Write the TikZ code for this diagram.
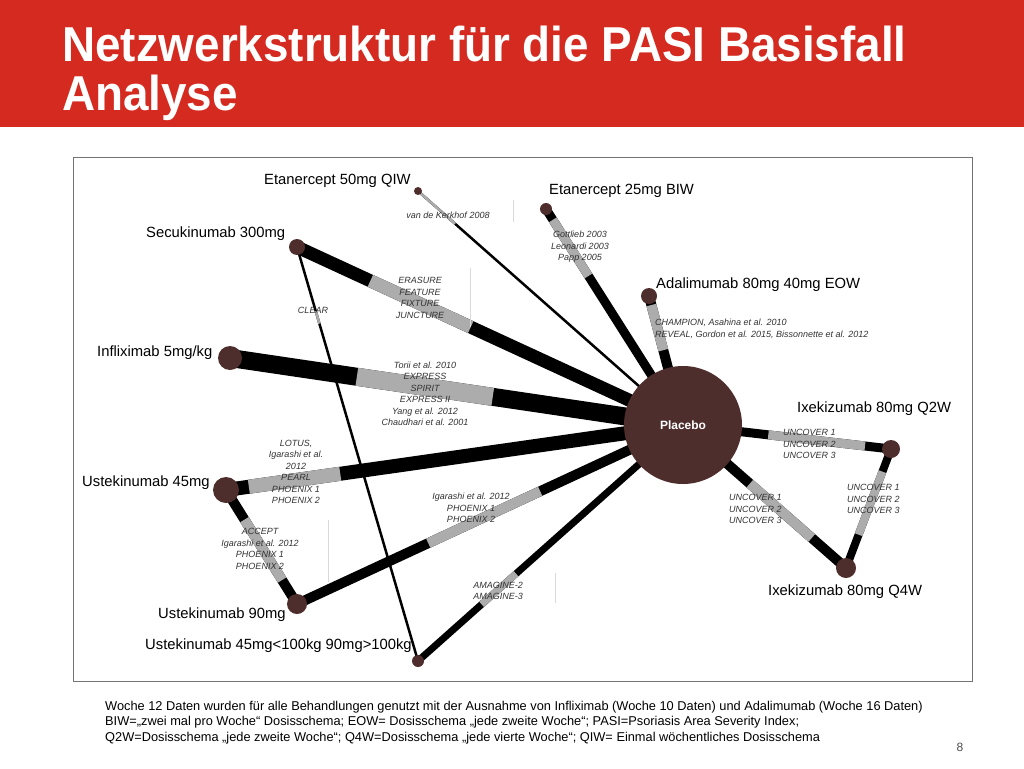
\documentclass[tikz,border=0pt]{standalone}
\usepackage{fontspec}
\setmainfont{Liberation Sans}
\newfontfamily\titlefont[FakeStretch=0.935]{Liberation Sans}
\usetikzlibrary{calc}
\pgfdeclarelayer{bg}
\pgfsetlayers{bg,main}
\definecolor{banner}{RGB}{212,42,32}
\definecolor{dotc}{RGB}{78,46,44}
\definecolor{segc}{RGB}{172,172,172}
\definecolor{labc}{RGB}{50,50,50}
\tikzset{
  dot/.style={circle,fill=dotc,inner sep=0pt,minimum size=#1},
  drug/.style={anchor=west,inner sep=0pt,font=\fontsize{14.8}{16}\selectfont,text=black},
  trial/.style={inner sep=0pt,font=\fontsize{9}{11.5}\selectfont\itshape,text=labc,align=center},
  trialL/.style={trial,align=left,anchor=west},
  artifact/.style={draw=black!15,line width=0.8pt},
  titletext/.style={anchor=base west,inner sep=0pt,text=white,font=\titlefont\bfseries\fontsize{49}{46}\selectfont},
}
% #1 from, #2 to, #3 width, #4 gray start, #5 gray end
\newcommand{\netedge}[5]{%
  \draw[line width=#3,line cap=butt] (#1.center) -- (#2.center);
  \draw[segc,line width=#3,line cap=butt] ($(#1.center)!#4!(#2.center)$) -- ($(#1.center)!#5!(#2.center)$);
}
\begin{document}
\begin{tikzpicture}[x=1pt,y=-1pt]
\useasboundingbox (0,0) rectangle (1024,768);
% banner
\fill[banner] (0,0) rectangle (1024,127);
\node[titletext] (title1) at (62,62) {Netzwerkstruktur für die PASI Basisfall};
\node[titletext] (title2) at (62,110) {Analyse};
% frame
\draw[black!55,line width=1pt] (73,157) rectangle (972,681);
% artifacts
\draw[artifact] (513,200) -- (513,222);
\draw[artifact] (470,268) -- (470,327);
\draw[artifact] (328,520) -- (328,582);
\draw[artifact] (555,573) -- (555,603);
% nodes
\node[circle,fill=dotc,inner sep=0pt,minimum size=118pt,text=white,font=\bfseries\fontsize{12}{14}\selectfont] (P) at (683,425) {Placebo};
\node[dot=8pt] (E50) at (418,191) {};
\node[dot=12pt] (E25) at (546,209) {};
\node[dot=16pt] (S) at (297,247) {};
\node[dot=16pt] (A) at (649,296) {};
\node[dot=24pt] (I) at (230,358) {};
\node[dot=18pt] (X2) at (891,449) {};
\node[dot=26pt] (U45) at (226,490) {};
\node[dot=20pt] (U90) at (297,604) {};
\node[dot=20pt] (X4) at (846,568) {};
\node[dot=12pt] (UW) at (418,661) {};
% edges
\begin{pgfonlayer}{bg}
\netedge{P}{E50}{2.5pt}{0.86}{0.99}
\netedge{P}{E25}{9pt}{0.69}{0.95}
\netedge{P}{S}{13pt}{0.55}{0.81}
\netedge{P}{A}{10pt}{0.58}{0.93}
\netedge{P}{I}{18pt}{0.42}{0.72}
\netedge{P}{U45}{14pt}{0.75}{0.95}
\netedge{P}{U90}{10pt}{0.37}{0.66}
\netedge{P}{UW}{7pt}{0.63}{0.76}
\netedge{P}{X2}{9pt}{0.41}{0.875}
\netedge{P}{X4}{10pt}{0.41}{0.79}
\netedge{U45}{U90}{10pt}{0.26}{0.79}
\netedge{X2}{X4}{8pt}{0.19}{0.72}
\netedge{S}{UW}{2.5pt}{0.155}{0.185}
\end{pgfonlayer}
% drug labels
\node[drug] (lE50) at (264,181) {Etanercept 50mg QIW};
\node[drug] (lE25) at (549,191) {Etanercept 25mg BIW};
\node[drug] (lS) at (146,234) {Secukinumab 300mg};
\node[drug] (lA) at (656,285) {Adalimumab 80mg 40mg EOW};
\node[drug] (lI) at (97,353) {Infliximab 5mg/kg};
\node[drug] (lX2) at (797,409) {Ixekizumab 80mg Q2W};
\node[drug] (lU45) at (82,483) {Ustekinumab 45mg};
\node[drug] (lU90) at (158,615) {Ustekinumab 90mg};
\node[drug] (lX4) at (768,592) {Ixekizumab 80mg Q4W};
\node[drug] (lUW) at (145,646) {Ustekinumab 45mg<100kg 90mg>100kg};
% trial labels
\node[trial] (tE50) at (448,215) {van de Kerkhof 2008};
\node[trial] (tE25) at (580,247) {Gottlieb 2003\\Leonardi 2003\\Papp 2005};
\node[trial] (tS) at (420,298) {ERASURE\\FEATURE\\FIXTURE\\JUNCTURE};
\node[trial] (tSW) at (313,310) {CLEAR};
\node[trialL] (tA) at (655,329) {CHAMPION, Asahina et al. 2010\\REVEAL, Gordon et al. 2015, Bissonnette et al. 2012};
\node[trial] (tI) at (425,394) {Torii et al. 2010\\EXPRESS\\SPIRIT\\EXPRESS II\\Yang et al. 2012\\Chaudhari et al. 2001};
\node[trial] (tU45) at (296,472) {LOTUS,\\Igarashi et al.\\2012\\PEARL\\PHOENIX 1\\PHOENIX 2};
\node[trial] (tUU) at (260,549) {ACCEPT\\Igarashi et al. 2012\\PHOENIX 1\\PHOENIX 2};
\node[trial] (tU90) at (471,508) {Igarashi et al. 2012\\PHOENIX 1\\PHOENIX 2};
\node[trial] (tUW) at (498,591) {AMAGINE-2\\AMAGINE-3};
\node[trialL] (tX2) at (783,444) {UNCOVER 1\\UNCOVER 2\\UNCOVER 3};
\node[trialL] (tX4) at (729,509) {UNCOVER 1\\UNCOVER 2\\UNCOVER 3};
\node[trialL] (tXX) at (847,499) {UNCOVER 1\\UNCOVER 2\\UNCOVER 3};
% footnote
\node[anchor=base west,inner sep=0pt,align=left,font=\fontsize{12.8}{15.5}\selectfont] (foot) at (105,741) {Woche 12 Daten wurden für alle Behandlungen genutzt mit der Ausnahme von Infliximab (Woche 10 Daten) und Adalimumab (Woche 16 Daten)\\BIW=„zwei mal pro Woche“ Dosisschema; EOW= Dosisschema „jede zweite Woche“; PASI=Psoriasis Area Severity Index;\\Q2W=Dosisschema „jede zweite Woche“; Q4W=Dosisschema „jede vierte Woche“; QIW= Einmal wöchentliches Dosisschema};
\node[anchor=base,inner sep=0pt,font=\fontsize{12}{14}\selectfont,text=black!70] (pg) at (960,751) {8};
\end{tikzpicture}
\end{document}
